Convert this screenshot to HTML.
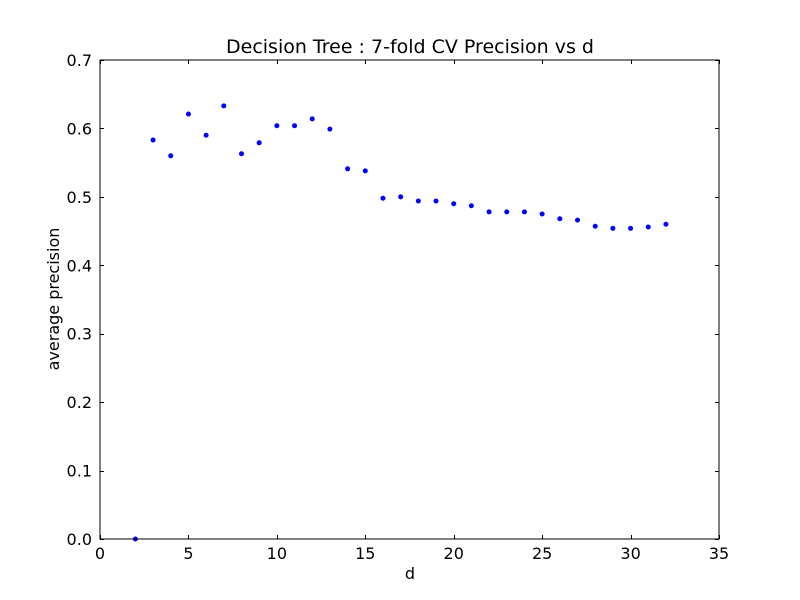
<!DOCTYPE html>
<html><head><meta charset="utf-8"><style>
body{margin:0;background:#fff;}
svg{display:block;font-family:"DejaVu Sans","Liberation Sans",sans-serif;}
</style></head><body>
<svg id="chart" width="800" height="600">
<rect x="0" y="0" width="800" height="600" fill="#fff"/>
<text x="410" y="53" text-anchor="middle" font-size="19">Decision Tree : 7-fold CV Precision vs d</text>
<text x="410" y="579" text-anchor="middle" font-size="16">d</text>
<text transform="translate(59,299) rotate(-90)" text-anchor="middle" font-size="16">average precision</text>
<g id="ticks"></g>
<g id="points"></g>
<rect x="100" y="60" width="619" height="479" fill="none" stroke="#000" stroke-width="1"/>
</svg>
<script>
const depths = [2,3,4,5,6,7,8,9,10,11,12,13,14,15,16,17,18,19,20,21,22,23,24,25,26,27,28,29,30,31,32];
const precisions = [0,0.583,0.560,0.621,0.590,0.633,0.563,0.579,0.604,0.604,0.614,0.599,0.541,0.538,0.498,0.500,0.494,0.494,0.490,0.487,0.478,0.478,0.478,0.475,0.468,0.466,0.457,0.454,0.454,0.456,0.460];
const xTicks = [0,5,10,15,20,25,30,35];
const yTicks = [0.0,0.1,0.2,0.3,0.4,0.5,0.6,0.7];
const NS='http://www.w3.org/2000/svg';
const X0=100,X1=719,Y0=539,Y1=60;
const xs=v=>X0+(v-0)/(35-0)*(X1-X0);
const ys=v=>Y0-(v-0)/(0.7-0)*(Y0-Y1);
const tg=document.getElementById('ticks');
function line(x1,y1,x2,y2){const l=document.createElementNS(NS,'line');l.setAttribute('x1',x1);l.setAttribute('y1',y1);l.setAttribute('x2',x2);l.setAttribute('y2',y2);l.setAttribute('stroke','#000');tg.appendChild(l);return l;}
xTicks.forEach(t=>{const x=Math.round(xs(t))+0.5;
const a=line(x,Y0,x,Y0-4);


const b=line(x,Y1,x,Y1+4);


const tx=document.createElementNS(NS,'text');tx.setAttribute('x',xs(t));tx.setAttribute('y',Y0+20);tx.setAttribute('text-anchor','middle');tx.setAttribute('font-size','16');tx.textContent=t;


tg.appendChild(tx);});
yTicks.forEach(t=>{const y=Math.round(ys(t))+0.5;
const a=line(X0,y,X0+4,y);


const b=line(X1,y,X1-4,y);


const tx=document.createElementNS(NS,'text');tx.setAttribute('x',X0-8);tx.setAttribute('y',ys(t)+6);tx.setAttribute('text-anchor','end');tx.setAttribute('font-size','16');tx.textContent=t.toFixed(1);


tg.appendChild(tx);});
const pg=document.getElementById('points');
depths.forEach((d,i)=>{const c=document.createElementNS(NS,'circle');c.setAttribute('cx',xs(d));c.setAttribute('cy',ys(precisions[i]));c.setAttribute('r','2.5');c.setAttribute('fill','#0000ff');


pg.appendChild(c);});
</script>
</body></html>
